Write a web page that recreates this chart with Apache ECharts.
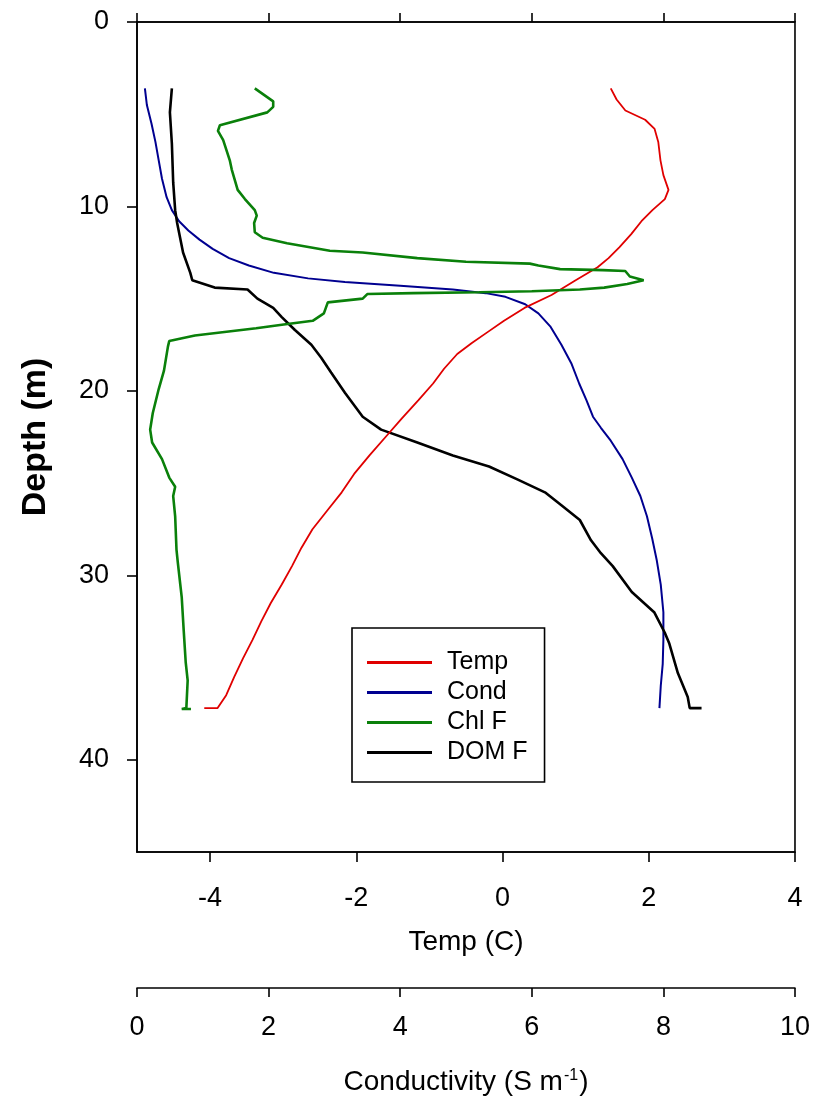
<!DOCTYPE html>
<html>
<head>
<meta charset="utf-8">
<script src="https://cdn.jsdelivr.net/npm/echarts@6/dist/echarts.min.js"></script>
<style>html,body{margin:0;padding:0;background:#fff;}#chart{width:813px;height:1102px;}</style>
</head>
<body>
<div id="chart"></div>
<script>
// ---- Data (depth in m) ----
const tempDepth = [3.6,4.2,4.8,5.3,5.8,6.5,7.5,8.3,9.1,9.6,10.2,10.8,11.5,12.2,12.8,13.3,14.0,14.8,15.5,16.2,16.8,17.4,18.0,18.8,19.6,20.5,21.5,22.5,23.5,24.5,25.5,26.5,27.5,28.5,29.5,30.5,31.5,32.5,33.5,34.5,35.5,36.5,37.2,37.2];
const tempValues = [1.48,1.56,1.68,1.95,2.08,2.13,2.16,2.2,2.27,2.22,2.05,1.9,1.76,1.6,1.45,1.3,1.0,0.67,0.3,0.02,-0.2,-0.42,-0.62,-0.8,-0.95,-1.15,-1.38,-1.6,-1.82,-2.03,-2.2,-2.4,-2.6,-2.75,-2.88,-3.02,-3.17,-3.3,-3.42,-3.55,-3.67,-3.78,-3.9,-4.08];

const condDepth = [3.6,4.5,5.5,6.5,7.5,8.5,9.5,10.2,10.8,11.3,11.8,12.3,12.8,13.2,13.6,13.9,14.1,14.3,14.5,14.7,14.9,15.3,15.8,16.5,17.5,18.5,19.6,20.5,21.4,22.0,22.7,23.7,24.7,25.7,26.8,28.0,29.2,30.5,32.0,33.5,34.8,36.0,37.2];
const condValues = [0.12,0.15,0.22,0.28,0.33,0.38,0.45,0.53,0.64,0.78,0.95,1.15,1.4,1.7,2.08,2.6,3.16,4.0,4.8,5.3,5.6,5.9,6.1,6.28,6.45,6.6,6.72,6.83,6.93,7.05,7.2,7.38,7.52,7.65,7.75,7.83,7.9,7.96,8.0,8.0,7.99,7.96,7.94];

const chlDepth = [3.6,4.3,4.6,4.9,5.6,5.9,6.4,7.5,8.0,9.1,9.6,10.2,10.5,10.9,11.4,11.7,12.0,12.4,12.5,12.8,13.0,13.1,13.2,13.4,13.45,13.5,13.8,14.0,14.1,14.2,14.4,14.5,14.6,14.65,14.7,14.75,15.0,15.2,15.8,16.2,16.4,16.6,17.0,17.3,17.6,18.9,19.9,21.2,22.1,22.8,23.7,24.7,25.2,25.7,26.8,28.6,29.3,31.2,33.0,34.7,35.7,37.2,37.25,37.25];
const chlValues = [1.79,2.07,2.07,1.98,1.26,1.23,1.31,1.41,1.44,1.53,1.64,1.79,1.82,1.78,1.79,1.91,2.28,2.93,3.43,4.26,5.0,5.97,6.1,6.43,7.08,7.42,7.49,7.7,7.7,7.45,7.1,6.73,6.0,5.2,4.2,3.5,3.43,2.9,2.84,2.67,2.23,1.81,0.88,0.49,0.47,0.41,0.33,0.24,0.2,0.23,0.38,0.49,0.58,0.55,0.58,0.6,0.62,0.68,0.71,0.74,0.77,0.75,0.68,0.82];

const domDepth = [3.6,4.9,6.6,8.7,10.2,10.9,12.5,13.6,14.0,14.4,14.5,15.0,15.5,16.0,16.7,17.5,18.2,19.0,20.1,21.4,22.1,22.8,23.5,24.1,24.8,25.5,26.2,27.0,28.1,28.8,29.5,30.9,32.0,33.1,33.7,35.3,36.6,37.2,37.2];
const domValues = [0.53,0.5,0.53,0.55,0.58,0.61,0.7,0.81,0.84,1.18,1.68,1.83,2.07,2.2,2.4,2.65,2.8,2.95,3.16,3.43,3.71,4.26,4.8,5.35,5.78,6.2,6.45,6.73,6.9,7.05,7.23,7.52,7.86,8.02,8.09,8.22,8.37,8.4,8.58];

const seriesNames = ['Temp','Cond','Chl F','DOM F'];
const depthTicks = [0,10,20,30,40];
const tempTicks = [-4,-2,0,2,4];

// ---- Chart ----
const FONT = '"Liberation Sans", Arial, sans-serif';
const pair = (vals, deps) => vals.map((v, i) => [v, deps[i]]);
const chart = echarts.init(document.getElementById('chart'), null, {renderer: 'canvas'});
const axisLine = {show: true, onZero: false, lineStyle: {color: '#000', width: 1.6}};
const labelStyle = {fontSize: 27, color: '#000', fontFamily: FONT};

const option = {
  animation: false,
  backgroundColor: '#fff',
  grid: {left: 137, top: 22, width: 658, height: 830, show: true, borderColor: '#000', borderWidth: 1.6, backgroundColor: 'transparent', containLabel: false},
  xAxis: [
    {
      type: 'value', position: 'bottom', min: -5, max: 4,
      name: 'Temp (C)', nameLocation: 'middle', nameGap: 76,
      nameTextStyle: {fontSize: 28, color: '#000', fontFamily: FONT},
      axisLine: axisLine,
      axisTick: {show: true, inside: false, length: 10, customValues: tempTicks, lineStyle: {color: '#000', width: 1.6}},
      axisLabel: Object.assign({customValues: tempTicks, margin: 33}, labelStyle),
      splitLine: {show: false}
    },
    {
      type: 'value', position: 'bottom', offset: 136, min: 0, max: 10, interval: 2,
      name: '{a|Conductivity (S m}{s|-1}{a|)}', nameLocation: 'middle', nameGap: 80,
      nameTextStyle: {fontSize: 28, color: '#000', fontFamily: FONT,
        rich: {a: {fontSize: 28, color: '#000', fontFamily: FONT}, s: {fontSize: 16, color: '#000', fontFamily: FONT, verticalAlign: 'top', padding: [0, 1, 0, 1]}}},
      axisLine: axisLine,
      axisTick: {show: true, inside: false, length: 9, lineStyle: {color: '#000', width: 1.6}},
      axisLabel: Object.assign({margin: 26}, labelStyle),
      splitLine: {show: false}
    },
    {
      type: 'value', position: 'top', min: 0, max: 10, interval: 2,
      axisLine: axisLine,
      axisTick: {show: true, inside: false, length: 9, lineStyle: {color: '#000', width: 1.6}},
      axisLabel: {show: false},
      splitLine: {show: false}
    }
  ],
  yAxis: [{
    type: 'value', inverse: true, min: 0, max: 45,
    name: 'Depth (m)', nameLocation: 'middle', nameGap: 84,
    nameTextStyle: {fontSize: 34, fontWeight: 'bold', color: '#000', fontFamily: FONT},
    axisLine: axisLine,
    axisTick: {show: true, inside: false, length: 10, customValues: depthTicks, lineStyle: {color: '#000', width: 1.6}},
    axisLabel: Object.assign({customValues: depthTicks, margin: 28}, labelStyle),
    splitLine: {show: false}
  }],
  legend: {
    data: seriesNames, orient: 'vertical', left: 352, top: 628,
    padding: [22, 17, 17, 15], itemGap: 5, itemWidth: 65, itemHeight: 3, icon: 'rect',
    borderColor: '#000', borderWidth: 1.6, backgroundColor: '#fff',
    textStyle: {fontSize: 25, color: '#000', fontFamily: FONT, lineHeight: 24, padding: [0, 0, 0, 10]}
  },
  series: [
    {name: 'Cond', type: 'line', xAxisIndex: 1, yAxisIndex: 0, data: pair(condValues, condDepth), symbol: 'none', z: 2,
      lineStyle: {color: '#000090', width: 2}, itemStyle: {color: '#000090'}},
    {name: 'DOM F', type: 'line', xAxisIndex: 2, yAxisIndex: 0, data: pair(domValues, domDepth), symbol: 'none', z: 3,
      lineStyle: {color: '#000000', width: 2.6}, itemStyle: {color: '#000000'}},
    {name: 'Temp', type: 'line', xAxisIndex: 0, yAxisIndex: 0, data: pair(tempValues, tempDepth), symbol: 'none', z: 4,
      lineStyle: {color: '#e00000', width: 1.8}, itemStyle: {color: '#e00000'}},
    {name: 'Chl F', type: 'line', xAxisIndex: 2, yAxisIndex: 0, data: pair(chlValues, chlDepth), symbol: 'none', z: 5,
      lineStyle: {color: '#0a800a', width: 2.6}, itemStyle: {color: '#0a800a'}}
  ]
};
chart.setOption(option);
</script>
</body>
</html>
